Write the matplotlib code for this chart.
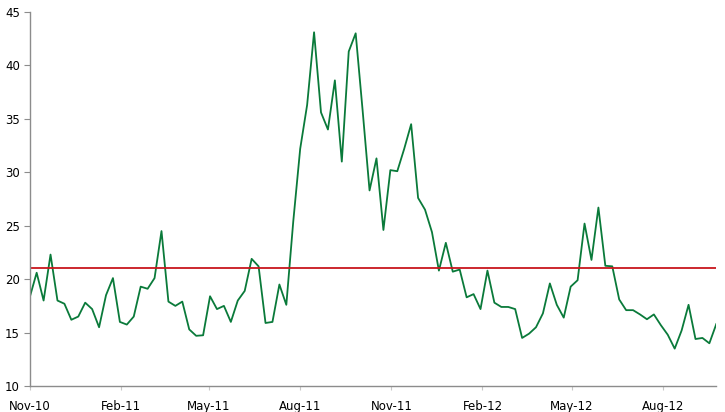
import matplotlib
matplotlib.use("Agg")
import matplotlib.pyplot as plt
import matplotlib.dates as mdates
import numpy as np
import pandas as pd

# weekly observations, starting 1 Nov 2010
START = "2010-11-01"
values = [
    18.3, 20.6, 18.0, 22.3, 18.0, 17.7, 16.2, 16.5, 17.8, 17.2,
    15.5, 18.5, 20.1, 16.0, 15.75, 16.5, 19.3, 19.1, 20.1, 24.5,
    17.9, 17.5, 17.9, 15.3, 14.7, 14.75, 18.4, 17.2, 17.5, 16.0,
    18.0, 18.9, 21.9, 21.2, 15.9, 16.0, 19.5, 17.6, 25.4, 32.2,
    36.3, 43.1, 35.6, 34.0, 38.6, 31.0, 41.3, 43.0, 35.8, 28.3,
    31.3, 24.6, 30.2, 30.1, 32.2, 34.5, 27.6, 26.5, 24.4, 20.8,
    23.4, 20.7, 20.9, 18.3, 18.6, 17.2, 20.8, 17.8, 17.4, 17.4,
    17.2, 14.5, 14.9, 15.5, 16.8, 19.6, 17.6, 16.4, 19.3, 19.9,
    25.2, 21.8, 26.7, 21.25, 21.2, 18.1, 17.1, 17.1, 16.7, 16.25,
    16.7, 15.7, 14.8, 13.5, 15.2, 17.6, 14.4, 14.5, 14.0, 15.8,
]
average_level = 21.05

tick_dates = pd.date_range("2010-11-01", "2012-08-01", freq="3MS")

dates = pd.date_range(START, periods=len(values), freq="7D")

fig, ax = plt.subplots(figsize=(7.25, 4.12), dpi=100)
fig.subplots_adjust(left=0.041, right=0.988, top=0.971, bottom=0.063)

ax.plot(dates, values, color="#0A7A3A", linewidth=1.3)
ax.axhline(average_level, color="#C8161D", linewidth=1.3)

ax.set_ylim(10, 45)
ax.set_yticks(np.arange(10, 46, 5))
ax.set_xlim(dates[0], dates[-1])
ax.set_xticks(tick_dates)
ax.xaxis.set_major_formatter(mdates.DateFormatter("%b-%y"))

for side in ["top", "right"]:
    ax.spines[side].set_visible(False)
for side in ["left", "bottom"]:
    ax.spines[side].set_color("#8C8C8C")
    ax.spines[side].set_linewidth(1.0)

ax.tick_params(axis="y", length=4, color="#8C8C8C", labelsize=8.5, pad=3)
ax.tick_params(axis="x", length=3, color="#C8C8C8", labelsize=8.5, pad=7)

plt.savefig("out.png", dpi=100)
